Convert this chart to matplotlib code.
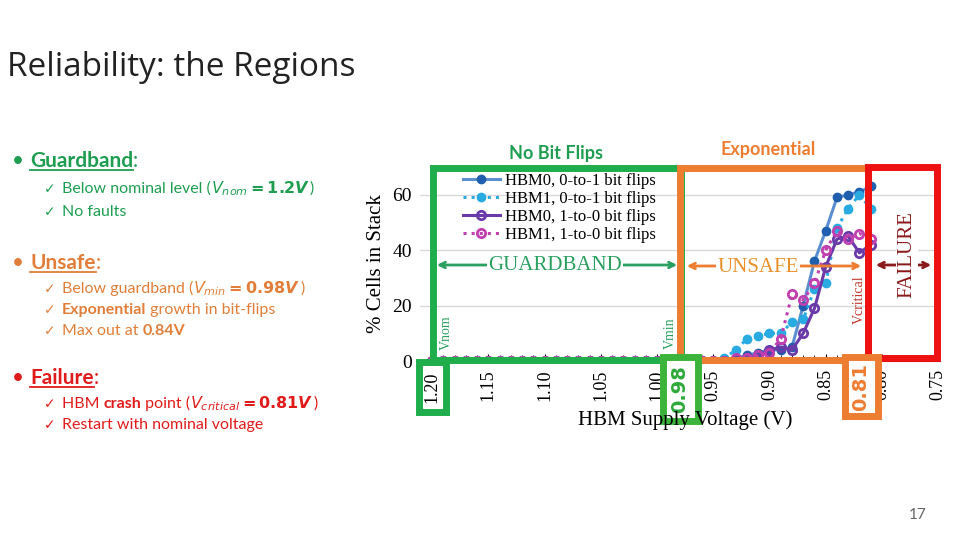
import matplotlib
matplotlib.use("Agg")
import matplotlib.pyplot as plt
import numpy as np
from matplotlib.patches import Rectangle

# ---------------- data ----------------
voltages = [round(1.20 - 0.01 * i, 2) for i in range(40)]  # 1.20 ... 0.81
zeros_head = [0] * 26  # 1.20 ... 0.95
hbm0_01 = zeros_head + [0.5, 1, 2, 3, 4, 4, 5, 20, 36, 47, 59, 60, 61, 63]
hbm1_01 = zeros_head + [1, 4, 8, 9, 10, 10, 14, 15, 26, 28, 48, 55, 60, 55]
hbm0_10 = zeros_head + [0, 0, 1, 2, 4, 5, 4, 10, 19, 34, 44, 45, 39, 42]
hbm1_10 = zeros_head + [0, 1, 1, 2, 3, 8, 24, 22, 28, 40, 47, 44, 46, 44]
series_names = ["HBM0, 0-to-1 bit flips", "HBM1, 0-to-1 bit flips",
                "HBM0, 1-to-0 bit flips", "HBM1, 1-to-0 bit flips"]
xticks = [1.20, 1.15, 1.10, 1.05, 1.00, 0.95, 0.90, 0.85, 0.80, 0.75]
yticks = [0, 20, 40, 60]

GREEN = "#1fae4b"
ORANGE = "#ed7d31"
RED = "#ee1111"
DRED = "#8b1a1a"
TGREEN = "#1f9e52"
TORANGE = "#e07e3a"
TRED = "#e01b1b"
SERIF = ["Liberation Serif", "DejaVu Serif"]
SANS = ["Lato", "DejaVu Sans"]

W, H = 960, 540
fig = plt.figure(figsize=(9.6, 5.4), dpi=100)

def fx(px): return px / W
def fy(py): return 1 - py / H

# ---------------- chart ----------------
ax = fig.add_axes([fx(420), fy(361), fx(940) - fx(420), fy(167) - fy(361)])
ax.set_xlim(1.2107, 0.7484)
ax.set_ylim(0, 70)
ax.plot(voltages, hbm0_01, "-o", color="#5b8fd0", mfc="#1f5fae", mec="#1f5fae", ms=6, lw=2.2, label=series_names[0])
ax.plot(voltages, hbm1_01, ":o", color="#29abe2", mfc="#29abe2", mec="#29abe2", ms=6, lw=2.2, label=series_names[1])
ax.plot(voltages, hbm0_10, "-o", color="#6a3aa8", mfc="none", mec="#6a3aa8", mew=2, ms=6, lw=2.2, label=series_names[2])
ax.plot(voltages, hbm1_10, ":o", color="#c040b0", mfc="none", mec="#c040b0", mew=2, ms=6, lw=2.2, label=series_names[3])
ax.set_xticks(xticks)
ax.set_xticklabels(["" if v == 1.20 else f"{v:.2f}" for v in xticks], rotation=90, fontsize=13, family=SERIF)
ax.set_xticks(np.arange(0.75, 1.2001, 0.01), minor=True)
ax.set_yticks(yticks)
ax.set_yticklabels([str(v) for v in yticks], fontsize=14, family=SERIF)
ax.tick_params(axis="both", length=0, pad=6)
ax.tick_params(axis="x", which="minor", length=4, direction="in")
ax.tick_params(axis="x", which="major", length=5, direction="in")
ax.grid(axis="y", color="#d9d9d9", lw=1)
for s in ["top", "right", "left"]:
    ax.spines[s].set_visible(False)
ax.spines["bottom"].set_color("#333333")
ax.set_axisbelow(True)
ax.legend(loc="upper left", bbox_to_anchor=(0.06, 1.03), frameon=False,
          prop={"family": SERIF, "size": 12}, handlelength=2.2,
          labelspacing=0.12, borderpad=0.2, handletextpad=0.3)
ax.set_ylabel("% Cells in Stack", family=SERIF, fontsize=15, labelpad=4)
fig.text(fx(685), fy(420), "HBM Supply Voltage (V)", family=SERIF, fontsize=15, ha="center", va="center")

# ---------------- overlays (figure pixel coords) ----------------
ov = fig.add_axes([0, 0, 1, 1], facecolor="none")
ov.set_xlim(0, W); ov.set_ylim(H, 0); ov.axis("off")
def box(x0, y0, x1, y1, c, lw=5):
    ov.add_patch(Rectangle((x0, y0), x1 - x0, y1 - y0, fill=False, ec=c, lw=lw))
box(433, 168, 681, 360, GREEN)
box(680, 168, 868, 360, ORANGE)
box(868, 167, 937, 358, RED)
ov.add_patch(Rectangle((419, 362), 27, 50, fc="white", ec=GREEN, lw=5))
ov.text(432, 387, "1.20", rotation=90, family=SERIF, fontsize=13, ha="center", va="center")
ov.add_patch(Rectangle((663, 357), 35, 64, fc="white", ec="#3cb43c", lw=5))
ov.text(680, 389, "0.98", rotation=90, fontsize=14, fontweight="bold", color="#2eaa3a", ha="center", va="center")
ov.add_patch(Rectangle((845, 357), 33, 59, fc="white", ec=ORANGE, lw=5))
ov.text(861, 387, "0.81", rotation=90, fontsize=14, fontweight="bold", color=ORANGE, ha="center", va="center")

ov.text(556, 153, "No Bit Flips", color=TGREEN, fontsize=13, fontweight="bold", family=SANS, ha="center", va="center")
ov.text(768, 150, "Exponential", color=ORANGE, fontsize=13, fontweight="bold", family=SANS, ha="center", va="center")

def darrow(x0, x1, y, c):
    ov.annotate("", xy=(x0, y), xytext=(x1, y), arrowprops=dict(arrowstyle="<->", color=c, lw=2))
darrow(434, 680, 265, "#2aa060")
ov.text(555, 265, "GUARDBAND", family=SERIF, fontsize=15, color="#2aa060", ha="center", va="center",
        bbox=dict(fc="white", ec="none", pad=1))
darrow(684, 864, 266, ORANGE)
ov.text(758, 267, "UNSAFE", family=SERIF, fontsize=15, color="#e8902c", ha="center", va="center",
        bbox=dict(fc="white", ec="none", pad=1))
darrow(873, 934, 265, DRED)
ov.text(907, 255, "FAILURE", family=SERIF, fontsize=15, color=DRED, rotation=90, ha="center", va="center",
        bbox=dict(fc="white", ec="none", pad=1))
ov.text(446, 333, "Vnom", family=SERIF, fontsize=10, color="#2aa060", rotation=90, ha="center", va="center")
ov.text(670, 333, "Vmin", family=SERIF, fontsize=10, color="#2aa060", rotation=90, ha="center", va="center")
ov.text(859, 300, "Vcritical", family=SERIF, fontsize=10, color="#c0392b", rotation=90, ha="center", va="center")

# ---------------- slide text ----------------
ov.text(7, 68, "Reliability: the Regions", family=["Open Sans", "DejaVu Sans"], fontsize=24, color="#222222", va="center")
ov.text(918, 515, "17", family=SANS, fontsize=11, color="#666666", ha="center", va="center")

fig.canvas.draw()
rend = fig.canvas.get_renderer()
inv = ov.transData.inverted()

def runs(x, y, parts, size, color, underline_first=False):
    cx = x
    for i, (txt, bold) in enumerate(parts):
        t = ov.text(cx, y, txt, family=SANS, fontsize=size, color=color,
                    fontweight="bold" if bold else "normal", va="baseline")
        bb = t.get_window_extent(rend)
        (a, _), (b, _) = inv.transform([(bb.x0, bb.y0), (bb.x1, bb.y0)])
        if underline_first and i == 0:
            ov.plot([a, b], [y + 3, y + 3], color=color, lw=1.3)
        cx = b

def bullet(y, head, color):
    ov.text(12, y, "•", family=SANS, fontsize=15, color=color, va="baseline")
    runs(30, y, [(head, True), (":", False)], 15, color, underline_first=True)

def item(y, parts, color):
    ov.text(44, y, "✓", family=["DejaVu Sans"], fontsize=10, color=color, va="baseline")
    runs(62, y, parts, 11.5, color)

bullet(167, "Guardband", TGREEN)
item(193, [("Below nominal level (", False), (r"$\boldsymbol{V_{nom}=1.2V}$", False), (")", False)], TGREEN)
item(216, [("No faults", False)], TGREEN)
bullet(269, "Unsafe", TORANGE)
item(293, [("Below guardband (", False), (r"$\boldsymbol{V_{min}=0.98V}$", False), (")", False)], TORANGE)
item(314, [("Exponential", True), (" growth in bit-flips", False)], TORANGE)
item(335, [("Max out at ", False), ("0.84V", True)], TORANGE)
bullet(384, "Failure", TRED)
item(408, [("HBM ", False), ("crash", True), (" point (", False), (r"$\boldsymbol{V_{critical}=0.81V}$", False), (")", False)], TRED)
item(429, [("Restart with nominal voltage", False)], TRED)

fig.savefig("out.png", dpi=100)
